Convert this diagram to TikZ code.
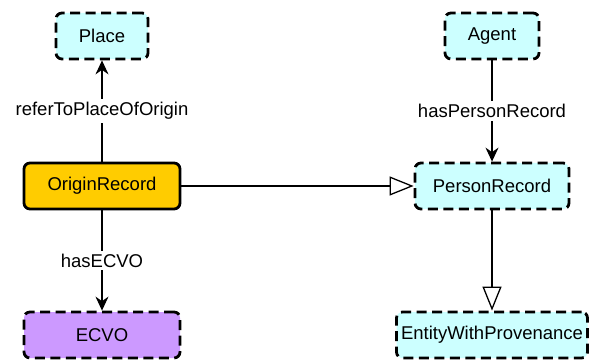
\documentclass[tikz,border=0pt]{standalone}
\usepackage{fontspec}
\setmainfont{Liberation Sans}
\usepackage{tikz}
\usetikzlibrary{arrows.meta,positioning}
\definecolor{lcyan}{HTML}{CCFFFF}
\definecolor{gold}{HTML}{FFCC00}
\definecolor{lilac}{HTML}{CC99FF}
\tikzstyle{k}    = [rectangle, draw=black, align=center, inner sep=2pt, minimum height=46pt, rounded corners=6pt, line width=2.8pt, font=\fontsize{18.5}{22}\selectfont]
\tikzstyle{ext}  = [k, fill=lcyan, dash pattern=on 10pt off 5.5pt]
\tikzstyle{rec}  = [k, fill=gold]
\tikzstyle{vo}   = [k, fill=lilac, dash pattern=on 10pt off 5.5pt]
\tikzstyle{prop} = [-{Stealth[length=14pt,width=13pt]}, line width=1.3pt]
\tikzstyle{isa}  = [-{Triangle[open,length=24pt,width=19pt]}, line width=1.3pt]
\tikzstyle{lbl}  = [fill=white, inner sep=3pt, font=\fontsize{18.5}{22}\selectfont]

\begin{document}
\begin{tikzpicture}
		\useasboundingbox (0,0) rectangle (593pt,361pt);
		% left column
		\node[rec, minimum width=156pt] (origin) at (102pt,175pt) {OriginRecord};
		\node[ext, minimum width=92pt]  (place)  at (102pt,325pt) {Place};
		\node[vo,  minimum width=156pt] (ecvo)   at (102pt,26pt)  {ECVO};
		% right column
		\node[ext, minimum width=154pt] (person) at (492pt,175pt) {PersonRecord};
		\node[ext, minimum width=94pt]  (agent)  at (492pt,325pt) {Agent};
		\node[ext, minimum width=191pt] (ewp)    at (492pt,26pt)  {EntityWithProvenance};

		\draw[prop] (origin) -- node[lbl] {referToPlaceOfOrigin} (place);
		\draw[prop] (origin) -- node[lbl] {hasECVO} (ecvo);
		\draw[prop] (agent) -- node[lbl] {hasPersonRecord} (person);
		\draw[isa] (origin) -- (person);
		\draw[isa] (person) -- (ewp);
	\end{tikzpicture}
\end{document}
